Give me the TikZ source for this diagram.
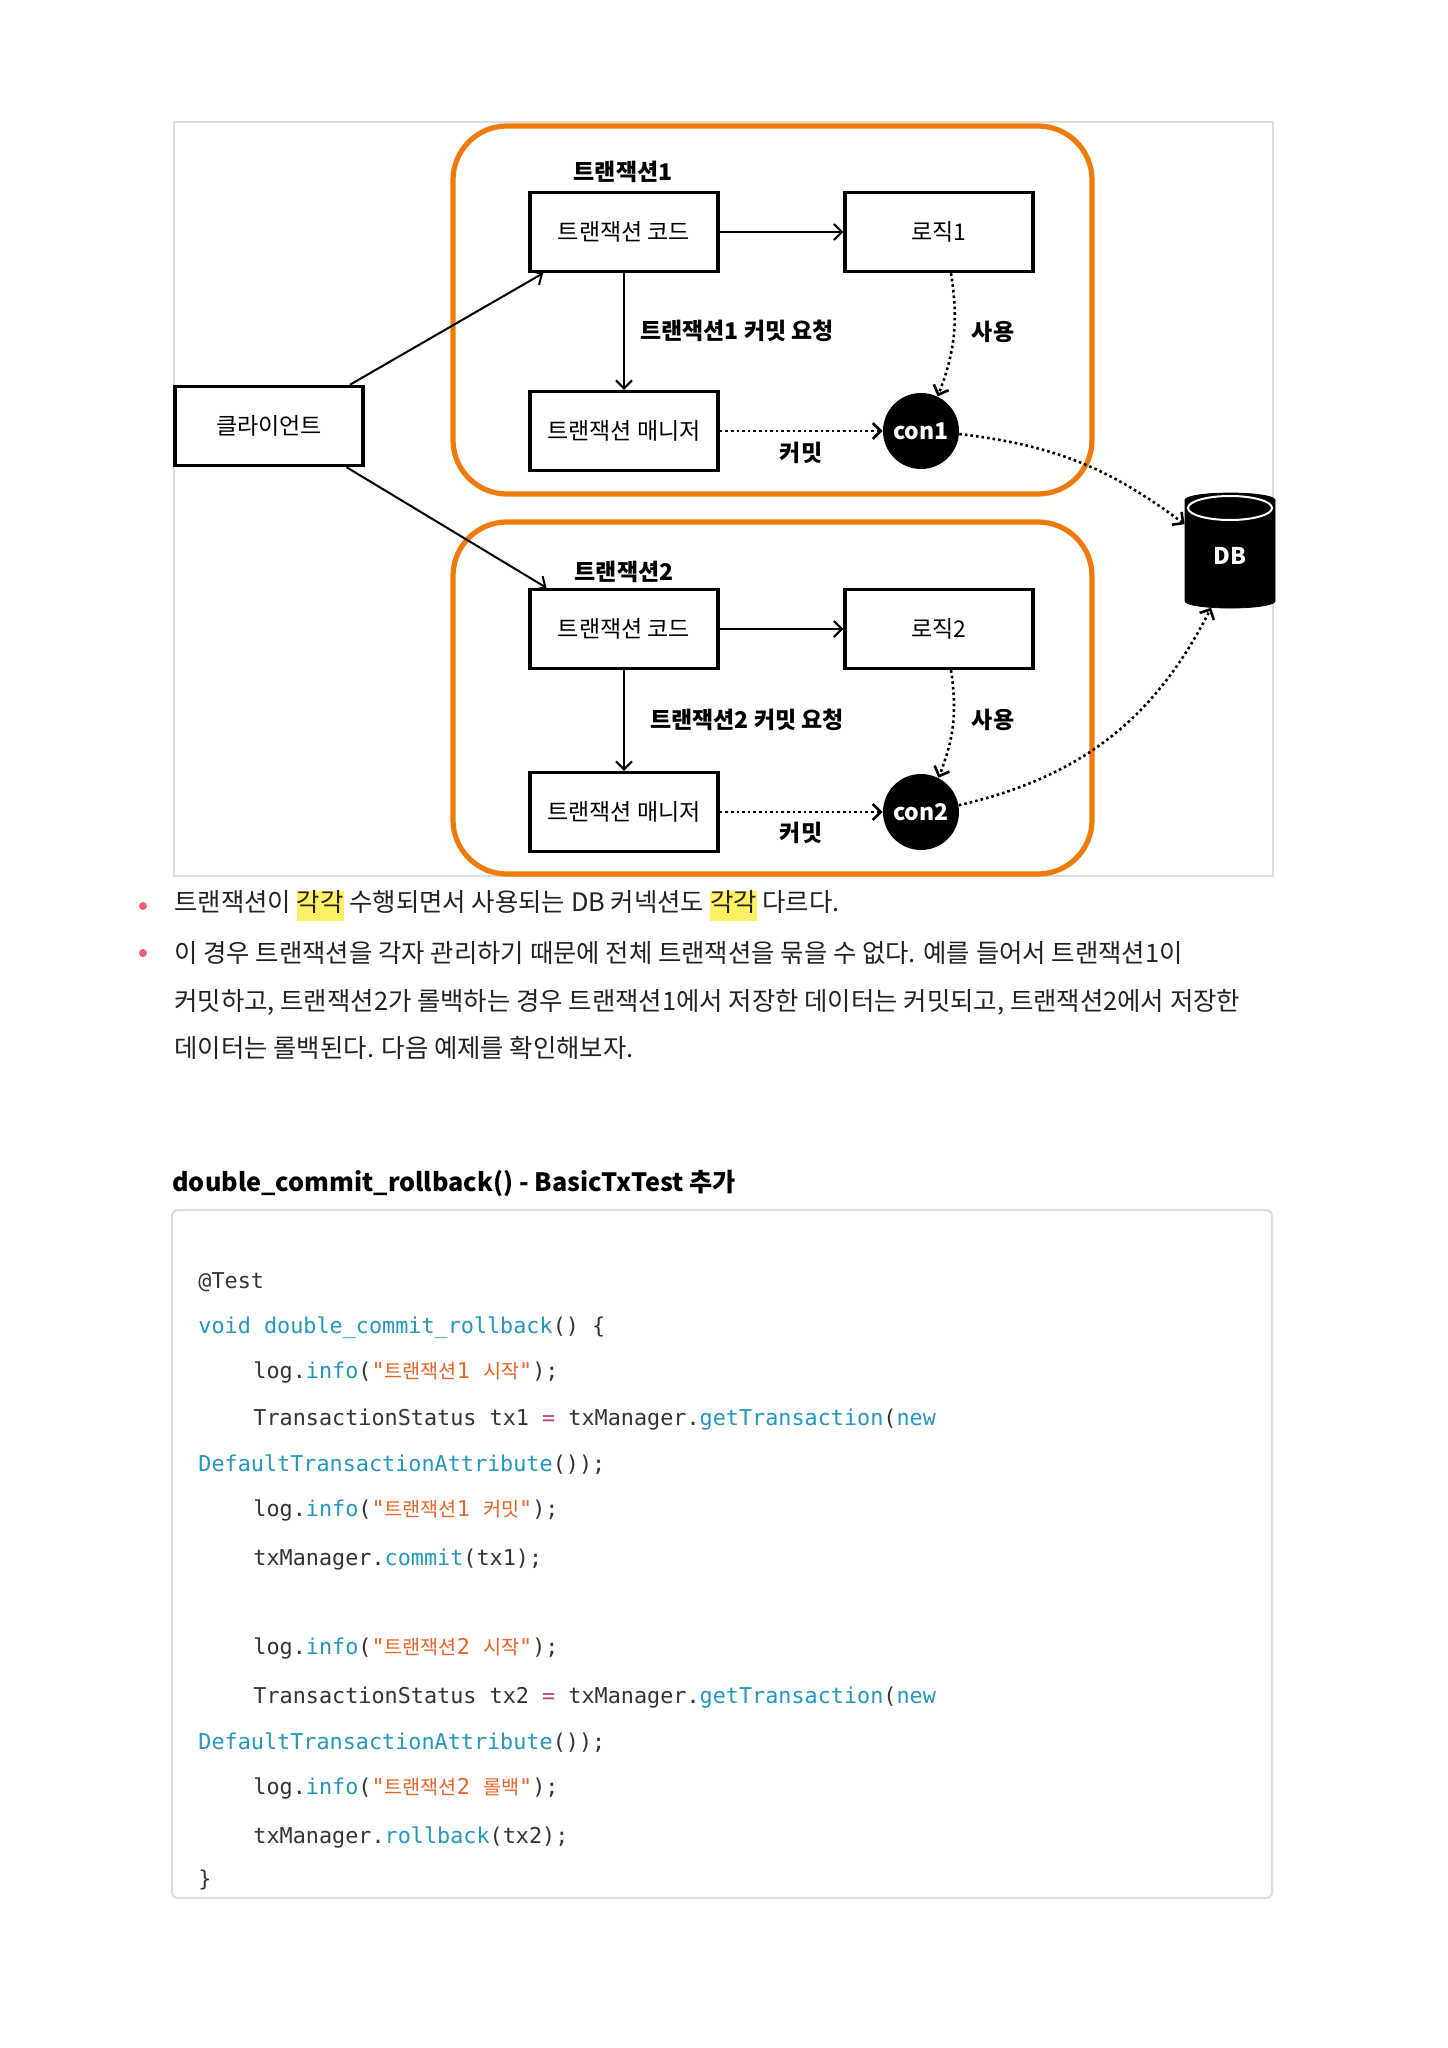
\documentclass[tikz,border=0pt]{standalone}
\usepackage{fontspec}
\setmainfont{Noto Sans CJK KR}
\setmonofont{DejaVu Sans Mono}
\newfontfamily\krcode{Noto Sans CJK KR}[Scale=0.9]
\usetikzlibrary{shapes,arrows,arrows.meta,positioning}
\definecolor{txorange}{RGB}{240,122,10}
\definecolor{framegray}{RGB}{221,221,221}
\definecolor{codeblue}{RGB}{37,150,190}
\definecolor{codeorange}{RGB}{232,100,40}
\definecolor{codepink}{RGB}{192,64,122}
\definecolor{codetext}{RGB}{51,51,51}
\definecolor{hlyellow}{RGB}{255,240,100}
\definecolor{bulletpink}{RGB}{230,100,115}
\definecolor{bodytext}{RGB}{34,34,34}

\newcommand{\ckw}[1]{\textcolor{codeblue}{#1}}
\newcommand{\cstr}[1]{\textcolor{codeorange}{#1}}
\newcommand{\cop}[1]{\textcolor{codepink}{#1}}
\newcommand{\hlword}[1]{{\setlength{\fboxsep}{0pt}\colorbox{hlyellow}{\rule[-0.38em]{0pt}{1.06em}#1}}}

\tikzset{
  >={Straight Barb[length=4pt,width=8pt]},
  sketchbox/.style={draw, rectangle, line width=1.7pt, minimum width=94pt, minimum height=39.5pt, font=\fontsize{11.5}{13}\selectfont},
  grouprect/.style={draw=txorange, line width=2.6pt, rounded corners=27pt},
  grplabel/.style={font=\bfseries\fontsize{11.5}{13}\selectfont},
  conn/.style={circle, fill=black, minimum size=38pt, inner sep=0pt, text=white, font=\bfseries\fontsize{11.5}{13}\selectfont},
  dbnode/.style={cylinder, shape border rotate=90, aspect=0.3, fill=black, draw=black, minimum height=57.5pt, minimum width=45pt, text=white, font=\bfseries\fontsize{11.5}{13}\selectfont},
  flow/.style={->, line width=1pt},
  dotflow/.style={->, line width=1.3pt, dash pattern=on 1.3pt off 1.5pt},
  bodyline/.style={anchor=west, inner sep=0pt, text=bodytext, font=\fontsize{12.7}{15}\selectfont},
  codeline/.style={anchor=west, inner sep=0pt, text=codetext, font=\ttfamily\fontsize{10.9}{13}\selectfont}
}

\begin{document}
\begin{tikzpicture}[x=0.5pt, y=-0.5pt, node distance=157.5pt]
  \fill[white] (0,0) rectangle (1447,2048);
  \useasboundingbox (0,0) rectangle (1447,2048);

  % frame and the two transaction groups
  \draw[framegray, line width=1pt] (174,122) rectangle (1273,876);
  \draw[grouprect] (453,126) rectangle (1092,494);
  \draw[grouprect] (453,522) rectangle (1092,874);

  \node[sketchbox] (client) at (269,426) {클라이언트};

  % transaction 1
  \node[grplabel] (t1) at (623,172) {트랜잭션1};
  \node[sketchbox] (code1) at (624,232) {트랜잭션 코드};
  \node[sketchbox] (logic1) [right of=code1] {로직1};
  \node[sketchbox] (mgr1) [below of=code1, node distance=99.5pt] {트랜잭션 매니저};
  \node[conn] (con1) [right of=mgr1, node distance=148.5pt] {con1};
  \node[grplabel] (req1) at (737,331) {트랜잭션1 커밋 요청};
  \node[grplabel] (use1) at (993,332) {사용};
  \node[grplabel] (cmt1) at (801,453) {커밋};

  % transaction 2
  \node[grplabel] (t2) at (624,572) {트랜잭션2};
  \node[sketchbox] (code2) at (624,629) {트랜잭션 코드};
  \node[sketchbox] (logic2) [right of=code2] {로직2};
  \node[sketchbox] (mgr2) [below of=code2, node distance=91.5pt] {트랜잭션 매니저};
  \node[conn] (con2) [right of=mgr2, node distance=148.5pt] {con2};
  \node[grplabel] (req2) at (747,720) {트랜잭션2 커밋 요청};
  \node[grplabel] (use2) at (993,720) {사용};
  \node[grplabel] (cmt2) at (801,833) {커밋};

  \node[dbnode] (db) at (1230,556) {DB};
  \draw[white, line width=1pt] (1230,508) ellipse [x radius=21pt, y radius=6pt];

  \draw[flow] (client.27) -- (code1.207);
  \draw[flow] (client.-28) -- (code2.152);
  \draw[flow] (code1) -- (logic1);
  \draw[flow] (code1) -- (mgr1);
  \draw[flow] (code2) -- (logic2);
  \draw[flow] (code2) -- (mgr2);
  \draw[dotflow] ([xshift=6pt]logic1.south) to[bend left=15] (con1);
  \draw[dotflow] ([xshift=6pt]logic2.south) to[bend left=15] (con2);
  \draw[dotflow] (mgr1) -- (con1);
  \draw[dotflow] (mgr2) -- (con2);
  \draw[dotflow] (con1) to[bend left=15] (db.145);
  \draw[dotflow] (con2) to[bend right=25] (db.250);

  % text below the picture
  \fill[bulletpink] (143,906) circle (2pt);
  \fill[bulletpink] (143,953) circle (2pt);
  \node[bodyline] (p1) at (174,906) {트랜잭션이 \hlword{각각} 수행되면서 사용되는 DB 커넥션도 \hlword{각각} 다르다.};
  \node[bodyline] (p2) at (174,953) {이 경우 트랜잭션을 각자 관리하기 때문에 전체 트랜잭션을 묶을 수 없다. 예를 들어서 트랜잭션1이};
  \node[bodyline] (p3) at (174,1002) {커밋하고, 트랜잭션2가 롤백하는 경우 트랜잭션1에서 저장한 데이터는 커밋되고, 트랜잭션2에서 저장한};
  \node[bodyline] (p4) at (174,1048) {데이터는 롤백된다. 다음 예제를 확인해보자.};

  \node[bodyline, font=\bfseries\fontsize{12.6}{15}\selectfont, text=black] (title) at (172,1183) {double\_commit\_rollback() - BasicTxTest 추가};

  % code block
  \draw[framegray, line width=1pt, fill=white, rounded corners=3pt] (172,1210) rectangle (1272,1898);
  \node[codeline] (c1) at (198,1282) {@Test};
  \node[codeline] (c2) at (198,1328) {\ckw{void double\_commit\_rollback}() \{};
  \node[codeline] (c3) at (253,1372) {log.\ckw{info}(\cstr{"{\krcode 트랜잭션}1 {\krcode 시작}"});};
  \node[codeline] (c4) at (253,1420) {TransactionStatus tx1 \cop{=} txManager.\ckw{getTransaction}(\ckw{new}};
  \node[codeline] (c5) at (198,1465) {\ckw{DefaultTransactionAttribute}());};
  \node[codeline] (c6) at (253,1510) {log.\ckw{info}(\cstr{"{\krcode 트랜잭션}1 {\krcode 커밋}"});};
  \node[codeline] (c7) at (253,1560) {txManager.\ckw{commit}(tx1);};
  \node[codeline] (c8) at (253,1648) {log.\ckw{info}(\cstr{"{\krcode 트랜잭션}2 {\krcode 시작}"});};
  \node[codeline] (c9) at (253,1698) {TransactionStatus tx2 \cop{=} txManager.\ckw{getTransaction}(\ckw{new}};
  \node[codeline] (c10) at (198,1743) {\ckw{DefaultTransactionAttribute}());};
  \node[codeline] (c11) at (253,1788) {log.\ckw{info}(\cstr{"{\krcode 트랜잭션}2 {\krcode 롤백}"});};
  \node[codeline] (c12) at (253,1837) {txManager.\ckw{rollback}(tx2);};
  \node[codeline] (c13) at (198,1880) {\}};
\end{tikzpicture}
\end{document}
